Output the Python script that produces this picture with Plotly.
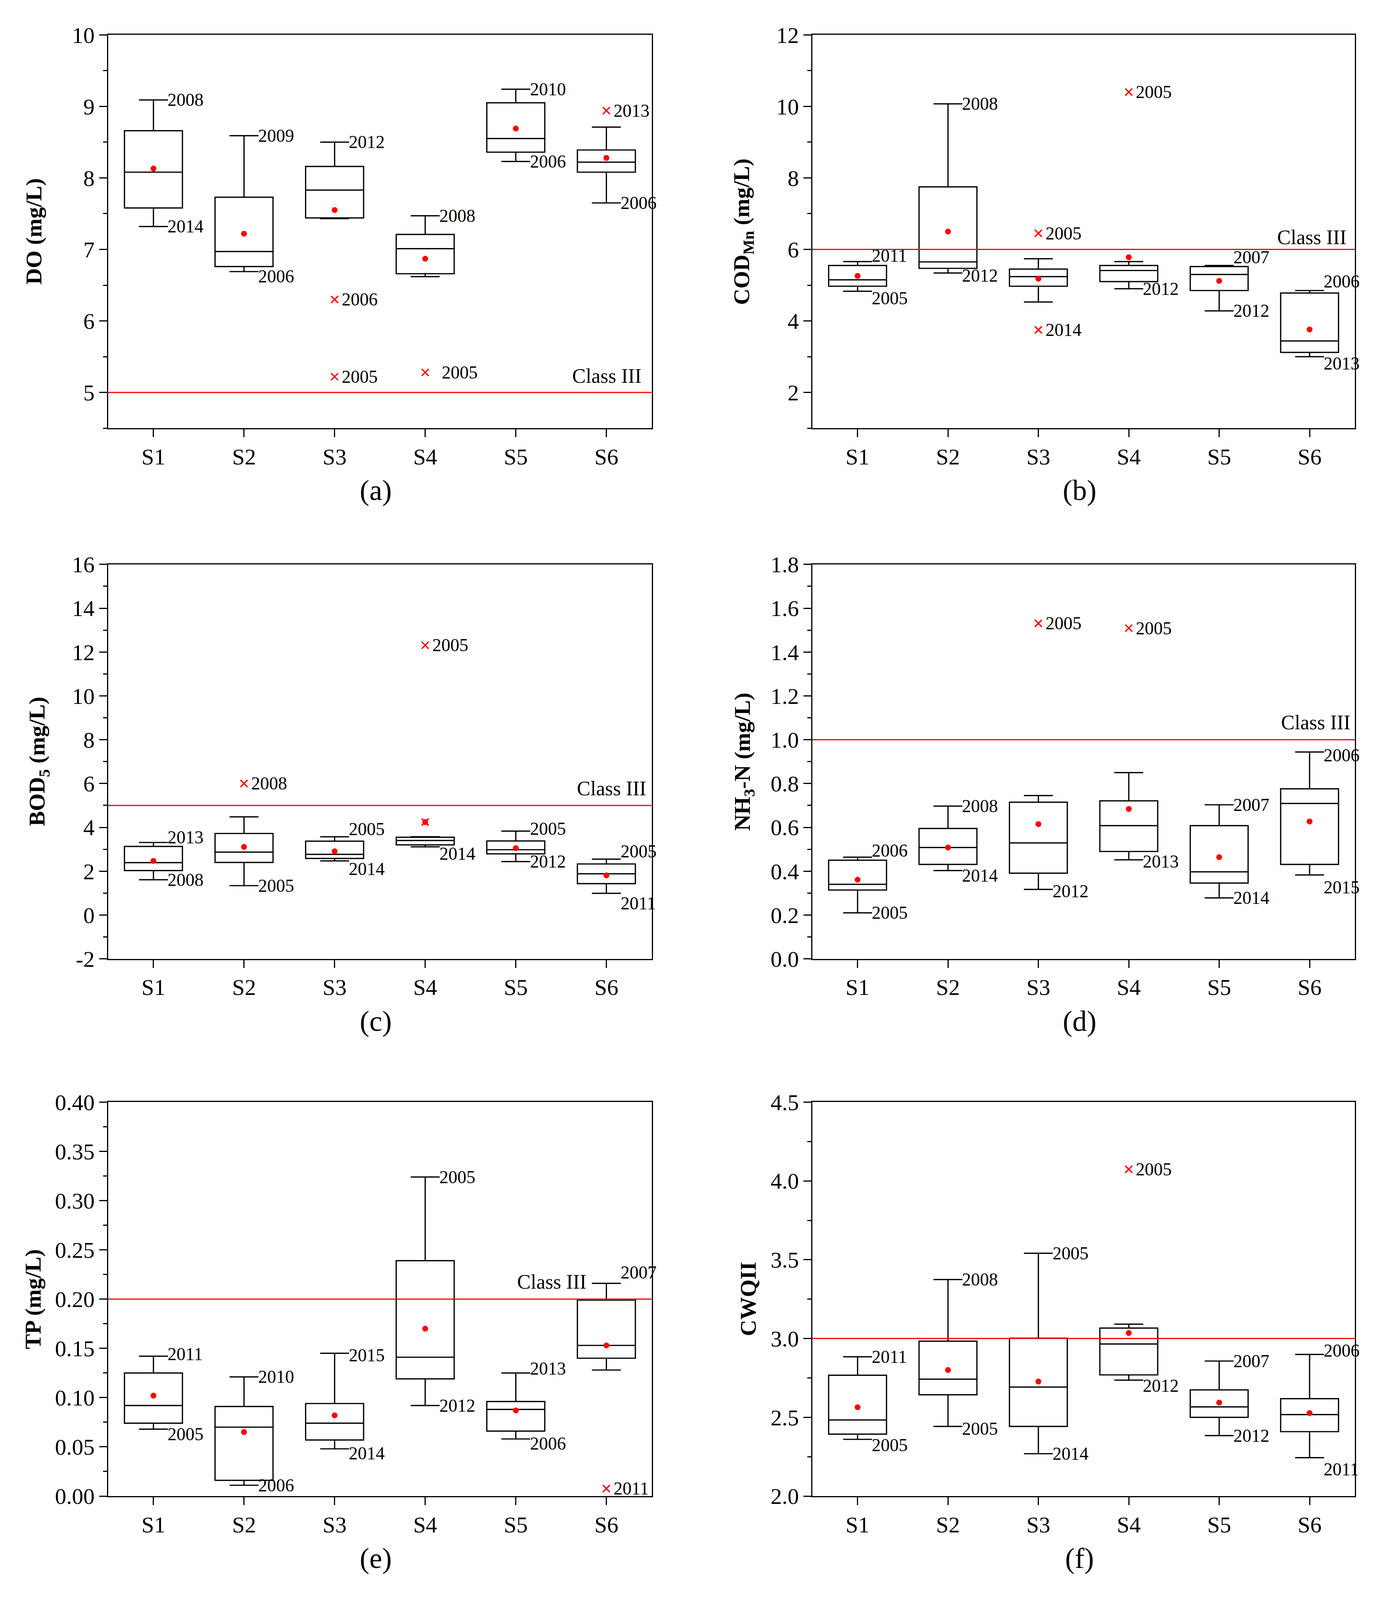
import numpy as np
import plotly.graph_objects as go

stations = ["S1", "S2", "S3", "S4", "S5", "S6"]
xpos = [1, 2, 3, 4, 5, 6]

# ---------------- (a) DO ----------------
do_upper = [9.09, 8.59, 8.50, 7.47, 9.24, 8.71]
do_q3 = [8.66, 7.73, 8.16, 7.21, 9.05, 8.39]
do_median = [8.08, 6.97, 7.83, 7.01, 8.55, 8.22]
do_q1 = [7.58, 6.76, 7.44, 6.66, 8.36, 8.08]
do_lower = [7.32, 6.69, 7.43, 6.62, 8.23, 7.65]
do_mean = [8.13, 7.22, 7.55, 6.87, 8.69, 8.28]
do_upper_year = ["2008", "2009", "2012", "2008", "2010", ""]
do_lower_year = ["2014", "2006", "", "", "2006", "2006"]
do_out_station = [3, 3, 4, 6]
do_out_value = [6.30, 5.22, 5.28, 8.94]
do_out_year = ["2006", "2005", "2005", "2013"]
do_class3 = 5.0

# ---------------- (b) COD_Mn ----------------
cod_upper = [5.66, 10.07, 5.74, 5.66, 5.55, 4.85]
cod_q3 = [5.55, 7.75, 5.45, 5.55, 5.52, 4.78]
cod_median = [5.15, 5.65, 5.24, 5.41, 5.30, 3.44]
cod_q1 = [4.97, 5.47, 4.97, 5.10, 4.85, 3.12]
cod_lower = [4.83, 5.34, 4.53, 4.90, 4.28, 3.00]
cod_mean = [5.26, 6.50, 5.18, 5.78, 5.12, 3.76]
cod_upper_year = ["2011", "2008", "", "", "2007", "2006"]
cod_lower_year = ["2005", "2012", "", "2012", "2012", "2013"]
cod_out_station = [3, 3, 4]
cod_out_value = [6.45, 3.75, 10.40]
cod_out_year = ["2005", "2014", "2005"]
cod_class3 = 6.0

# ---------------- (c) BOD5 ----------------
bod_upper = [3.31, 4.48, 3.57, 3.57, 3.83, 2.55]
bod_q3 = [3.13, 3.72, 3.37, 3.55, 3.38, 2.33]
bod_median = [2.39, 2.87, 2.77, 3.40, 2.98, 1.88]
bod_q1 = [2.03, 2.40, 2.58, 3.20, 2.79, 1.43]
bod_lower = [1.61, 1.34, 2.47, 3.11, 2.44, 0.99]
bod_mean = [2.47, 3.11, 2.91, 4.24, 3.05, 1.81]
bod_upper_year = ["2013", "", "2005", "", "2005", "2005"]
bod_lower_year = ["2008", "2005", "2014", "2014", "2012", "2011"]
bod_out_station = [2, 4, 4]
bod_out_value = [6.00, 12.31, 4.24]
bod_out_year = ["2008", "2005", ""]
bod_class3 = 5.0

# ---------------- (d) NH3-N ----------------
nh_upper = [0.464, 0.697, 0.745, 0.850, 0.703, 0.944]
nh_q3 = [0.450, 0.595, 0.715, 0.721, 0.608, 0.776]
nh_median = [0.340, 0.508, 0.529, 0.608, 0.397, 0.709]
nh_q1 = [0.314, 0.431, 0.391, 0.490, 0.346, 0.431]
nh_lower = [0.210, 0.403, 0.317, 0.452, 0.278, 0.383]
nh_mean = [0.361, 0.508, 0.615, 0.684, 0.464, 0.627]
nh_upper_year = ["2006", "2008", "", "", "2007", "2006"]
nh_lower_year = ["2005", "2014", "2012", "2013", "2014", "2015"]
nh_out_station = [3, 4]
nh_out_value = [1.531, 1.509]
nh_out_year = ["2005", "2005"]
nh_class3 = 1.0

# ---------------- (e) TP ----------------
tp_upper = [0.142, 0.121, 0.145, 0.324, 0.125, 0.216]
tp_q3 = [0.125, 0.091, 0.094, 0.239, 0.096, 0.199]
tp_median = [0.092, 0.070, 0.074, 0.141, 0.088, 0.153]
tp_q1 = [0.074, 0.016, 0.057, 0.119, 0.066, 0.140]
tp_lower = [0.068, 0.011, 0.048, 0.092, 0.058, 0.128]
tp_mean = [0.102, 0.065, 0.082, 0.170, 0.087, 0.153]
tp_upper_year = ["2011", "2010", "2015", "2005", "2013", "2007"]
tp_lower_year = ["2005", "2006", "2014", "2012", "2006", ""]
tp_out_station = [6]
tp_out_value = [0.0076]
tp_out_year = ["2011"]
tp_class3 = 0.2

# ---------------- (f) CWQII ----------------
cw_upper = [2.884, 3.374, 3.541, 3.091, 2.857, 2.899]
cw_q3 = [2.767, 2.983, 3.002, 3.066, 2.674, 2.618]
cw_median = [2.483, 2.742, 2.692, 2.965, 2.566, 2.517]
cw_q1 = [2.393, 2.643, 2.442, 2.769, 2.500, 2.409]
cw_lower = [2.360, 2.442, 2.269, 2.736, 2.384, 2.244]
cw_mean = [2.564, 2.800, 2.727, 3.035, 2.593, 2.527]
cw_upper_year = ["2011", "2008", "2005", "", "2007", "2006"]
cw_lower_year = ["2005", "2005", "2014", "2012", "2012", "2011"]
cw_out_station = [4]
cw_out_value = [4.074]
cw_out_year = ["2005"]
cw_class3 = 3.0

# ---------------- layout / style (not data) ----------------
FONT = "Liberation Serif"
W, H = 3541, 4096          # visible browser viewport
VS = H / 4479.0            # vertical scale vs. reference canvas
X_DOM = [[0.0782, 0.4712], [0.5874, 0.9796]]
Y_DOM = [[0.7360, 0.9858], [0.3990, 0.6495], [0.0578, 0.3080]]

panels = [
    dict(tag="(a)", title="<b>DO (mg/L)</b>", yr=[4.5, 10], dt=1, mdt=0.5, fmt="{:.0f}",
         up=do_upper, q3=do_q3, med=do_median, q1=do_q1, lo=do_lower, mean=do_mean,
         uy=do_upper_year, ly=do_lower_year, os=do_out_station, ov=do_out_value, oy=do_out_year,
         c3=do_class3, c3x=6.40, c3dy=46, c3show=True,
         udy=[0, 0, 0, 0, 0, 0], ldy=[0, -13, 0, 0, 0, 0], odx=[16, 16, 40, 16],
         tx=0.0245),
    dict(tag="(b)", title="<b>COD<sub>Mn</sub> (mg/L)</b>", yr=[1, 12], dt=2, mdt=1, fmt="{:.0f}",
         up=cod_upper, q3=cod_q3, med=cod_median, q1=cod_q1, lo=cod_lower, mean=cod_mean,
         uy=cod_upper_year, ly=cod_lower_year, os=cod_out_station, ov=cod_out_value, oy=cod_out_year,
         c3=cod_class3, c3x=6.42, c3dy=34, c3show=True,
         udy=[17, 0, 0, 0, 23, 25], ldy=[-20, -7, 0, 0, 0, -19], odx=[16, 16, 16],
         tx=0.5374),
    dict(tag="(c)", title="<b>BOD<sub>5</sub> (mg/L)</b>", yr=[-2, 16], dt=2, mdt=1, fmt="{:.0f}",
         up=bod_upper, q3=bod_q3, med=bod_median, q1=bod_q1, lo=bod_lower, mean=bod_mean,
         uy=bod_upper_year, ly=bod_lower_year, os=bod_out_station, ov=bod_out_value, oy=bod_out_year,
         c3=bod_class3, c3x=6.45, c3dy=48, c3show=True,
         udy=[14, 0, 21, 0, 7, 22], ldy=[0, 0, -23, -19, 0, -28], odx=[16, 16, 16],
         tx=0.0280),
    dict(tag="(d)", title="<b>NH<sub>3</sub>-N (mg/L)</b>", yr=[0, 1.8], dt=0.2, mdt=0.1, fmt="{:.1f}",
         up=nh_upper, q3=nh_q3, med=nh_median, q1=nh_q1, lo=nh_lower, mean=nh_mean,
         uy=nh_upper_year, ly=nh_lower_year, os=nh_out_station, ov=nh_out_value, oy=nh_out_year,
         c3=nh_class3, c3x=6.46, c3dy=48, c3show=True,
         udy=[18, 0, 0, 0, 0, -9], ldy=[0, -14, -5, -5, 0, -35], odx=[16, 16],
         tx=0.5380),
    dict(tag="(e)", title="<b>TP (mg/L)</b>", yr=[0, 0.4], dt=0.05, mdt=0.025, fmt="{:.2f}",
         up=tp_upper, q3=tp_q3, med=tp_median, q1=tp_q1, lo=tp_lower, mean=tp_mean,
         uy=tp_upper_year, ly=tp_lower_year, os=tp_out_station, ov=tp_out_value, oy=tp_out_year,
         c3=tp_class3, c3x=5.79, c3dy=48, c3show=True,
         udy=[6, 0, -6, 0, 12, 31], ldy=[-14, 0, -13, 0, -13, 0], odx=[16],
         tx=0.0238),
    dict(tag="(f)", title="<b>CWQII</b>", yr=[2, 4.5], dt=0.5, mdt=0.25, fmt="{:.1f}",
         up=cw_upper, q3=cw_q3, med=cw_median, q1=cw_q1, lo=cw_lower, mean=cw_mean,
         uy=cw_upper_year, ly=cw_lower_year, os=cw_out_station, ov=cw_out_value, oy=cw_out_year,
         c3=cw_class3, c3x=6.4, c3dy=40, c3show=False,
         udy=[0, 0, 0, 0, 0, 11], ldy=[-16, -6, 0, -16, 0, -33], odx=[16],
         tx=0.5410),
]

BOX_W = 0.64
CAP = BOX_W * 0.5 / 2
F_TICK, F_YEAR, F_CLASS, F_TITLE, F_TAG = 58, 46, 52, 58, 74

fig = go.Figure()
annotations = []
shapes = []
layout_axes = {}

for i, p in enumerate(panels):
    n = i + 1
    row, col = i // 2, i % 2
    xa = "x" if n == 1 else f"x{n}"
    ya = "y" if n == 1 else f"y{n}"
    xkey = "xaxis" if n == 1 else f"xaxis{n}"
    ykey = "yaxis" if n == 1 else f"yaxis{n}"

    fig.add_trace(go.Box(
        x=xpos, q1=p["q1"], median=p["med"], q3=p["q3"],
        lowerfence=p["lo"], upperfence=p["up"],
        width=BOX_W, whiskerwidth=0.5, boxpoints=False,
        line=dict(color="black", width=3.2), fillcolor="rgba(0,0,0,0)",
        xaxis=xa, yaxis=ya, showlegend=False, hoverinfo="skip"))

    fig.add_trace(go.Scatter(
        x=xpos, y=p["mean"], mode="markers",
        marker=dict(color="#ff0000", size=15, symbol="circle"),
        xaxis=xa, yaxis=ya, showlegend=False))

    fig.add_trace(go.Scatter(
        x=p["os"], y=p["ov"], mode="markers",
        marker=dict(symbol="x-thin", size=18, line=dict(color="#ff0000", width=3.5)),
        xaxis=xa, yaxis=ya, showlegend=False))

    for j in range(6):
        if p["uy"][j]:
            annotations.append(dict(x=xpos[j] + CAP, y=p["up"][j], xref=xa, yref=ya,
                                    text=p["uy"][j], showarrow=False, xanchor="left",
                                    yanchor="middle", yshift=p["udy"][j] * VS, xshift=-3,
                                    font=dict(family=FONT, size=F_YEAR, color="black")))
        if p["ly"][j]:
            annotations.append(dict(x=xpos[j] + CAP, y=p["lo"][j], xref=xa, yref=ya,
                                    text=p["ly"][j], showarrow=False, xanchor="left",
                                    yanchor="middle", yshift=p["ldy"][j] * VS, xshift=-3,
                                    font=dict(family=FONT, size=F_YEAR, color="black")))
    for k in range(len(p["os"])):
        if p["oy"][k]:
            annotations.append(dict(x=p["os"][k], y=p["ov"][k], xref=xa, yref=ya,
                                    text=p["oy"][k], showarrow=False, xanchor="left",
                                    yanchor="middle", xshift=p["odx"][k],
                                    font=dict(family=FONT, size=F_YEAR, color="black")))

    shapes.append(dict(type="line", xref=f"{xa} domain", yref=ya, x0=0, x1=1,
                       y0=p["c3"], y1=p["c3"], line=dict(color="#ff0000", width=3)))
    if p["c3show"]:
        annotations.append(dict(x=p["c3x"], y=p["c3"], xref=xa, yref=ya, text="Class III",
                                showarrow=False, xanchor="right", yanchor="middle",
                                yshift=p["c3dy"] * VS,
                                font=dict(family=FONT, size=F_CLASS, color="black")))

    yd = Y_DOM[row]
    xd = X_DOM[col]
    annotations.append(dict(x=p["tx"], y=(yd[0] + yd[1]) / 2, xref="paper", yref="paper",
                            text=p["title"], textangle=-90, showarrow=False,
                            xanchor="center", yanchor="middle",
                            font=dict(family=FONT, size=F_TITLE, color="black")))
    annotations.append(dict(x=(xd[0] + xd[1]) / 2 - 0.003, y=yd[0] - 0.0395, xref="paper",
                            yref="paper", text=p["tag"], showarrow=False,
                            xanchor="center", yanchor="middle",
                            font=dict(family=FONT, size=F_TAG, color="black")))

    r0, r1 = p["yr"]
    start = np.ceil(r0 / p["dt"] - 1e-9) * p["dt"]
    tv = np.round(np.arange(start, r1 + p["dt"] / 2, p["dt"]), 6) + 0.0
    tt = [p["fmt"].format(abs(v) if abs(v) < 1e-9 else v) for v in tv]

    layout_axes[xkey] = dict(
        domain=xd, anchor=ya, range=[0.5, 6.5], tickmode="array", tickvals=xpos,
        ticktext=stations, ticks="outside", ticklen=20, tickwidth=3, tickcolor="black",
        showline=True, linewidth=3, linecolor="black", mirror=True,
        showgrid=False, zeroline=False,
        tickfont=dict(family=FONT, size=F_TICK, color="black"))
    layout_axes[ykey] = dict(
        domain=yd, anchor=xa, range=[r0, r1], tickmode="array", tickvals=list(tv),
        ticktext=tt, ticks="outside", ticklen=20, tickwidth=3, tickcolor="black",
        showline=True, linewidth=3, linecolor="black", mirror=True,
        showgrid=False, zeroline=False,
        minor=dict(ticks="outside", ticklen=10, tickwidth=3, tickcolor="black",
                   dtick=p["mdt"], tick0=0, showgrid=False),
        tickfont=dict(family=FONT, size=F_TICK, color="black"))

fig.update_layout(
    width=W, height=H,
    margin=dict(l=0, r=0, t=0, b=0),
    paper_bgcolor="white", plot_bgcolor="white",
    showlegend=False,
    annotations=annotations, shapes=shapes,
    **layout_axes)

post = """
document.body.style.margin='0';
document.body.style.overflow='hidden';
var gd=document.getElementById('{plot_id}');
var w=window.innerWidth, h=window.innerHeight;
if (w>0 && h>0 && (w!==gd.layout.width || h!==gd.layout.height)) {
  Plotly.relayout(gd,{width:w,height:h});
}
"""
fig.write_html("out.html", post_script=post, config={"displayModeBar": False})
